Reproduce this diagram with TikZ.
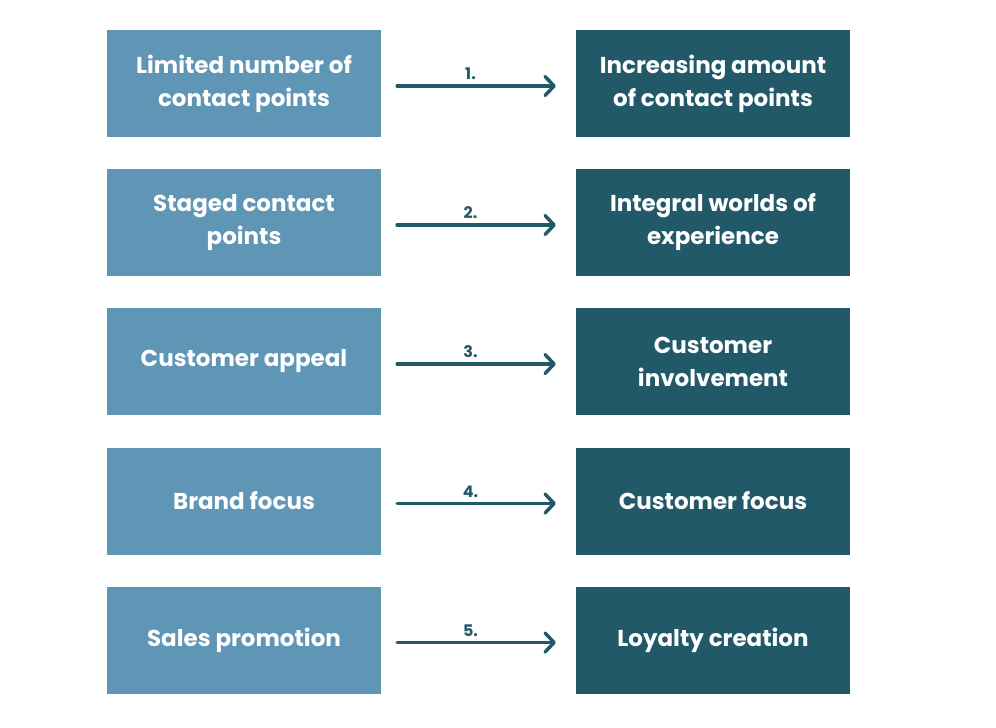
\documentclass[tikz,border=0pt]{standalone}
\usepackage{fontspec}
\setmainfont{Poppins}
\usetikzlibrary{arrows.meta}
\definecolor{lightblue}{HTML}{5F95B5}
\definecolor{darkteal}{HTML}{215968}
\tikzset{
  oldbox/.style={fill=lightblue, text=white, minimum width=274pt, minimum height=107pt,
    align=center, font=\fontsize{23}{33}\selectfont\bfseries, inner sep=0pt},
  newbox/.style={oldbox, fill=darkteal},
  shiftarrow/.style={draw=darkteal, line width=3.5pt, line cap=round,
    -{Straight Barb[length=9pt, width=19pt, line width=3.5pt, round]},
    shorten <=16pt, shorten >=20pt},
  steplabel/.style={text=darkteal, font=\fontsize{16}{18}\selectfont\bfseries, above=1pt}
}
\begin{document}
\begin{tikzpicture}[x=1pt, y=-1pt]
\useasboundingbox (0,0) rectangle (996,728);

% Left column: old approach
\node[oldbox] (l1) at (244,83.5) {Limited number of\\contact points};
\node[oldbox] (l2) at (244,222.5) {Staged contact\\points};
\node[oldbox] (l3) at (244,361.5) {Customer appeal};
\node[oldbox] (l4) at (244,501) {Brand focus};
\node[oldbox] (l5) at (244,640) {Sales promotion};

% Right column: new approach
\node[newbox] (r1) at (713,83.5) {Increasing amount\\of contact points};
\node[newbox] (r2) at (713,222.5) {Integral worlds of\\experience};
\node[newbox] (r3) at (713,361.5) {Customer\\involvement};
\node[newbox] (r4) at (713,501) {Customer focus};
\node[newbox] (r5) at (713,640) {Loyalty creation};

% Arrows with step numbers
\foreach \i in {1,...,5}
  \draw[shiftarrow] ([yshift=-2.5pt]l\i.east) -- node[steplabel, xshift=-8pt] {\i.} ([yshift=-2.5pt]r\i.west);

\end{tikzpicture}
\end{document}
